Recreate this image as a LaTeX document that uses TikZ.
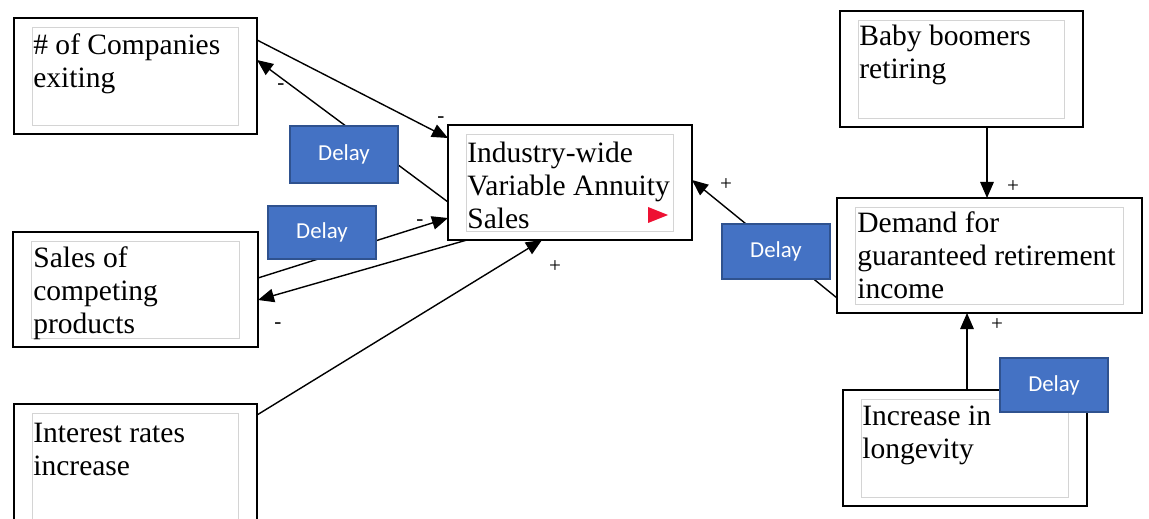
\documentclass[tikz,border=0pt]{standalone}
\usepackage{fontspec}
\setmainfont{Liberation Serif}
\newfontfamily\delayfont{Carlito}
\usetikzlibrary{arrows.meta}

\definecolor{delayblue}{HTML}{4472C4}
\definecolor{delayedge}{HTML}{2F528F}
\definecolor{innergray}{HTML}{D4D4D4}
\definecolor{flagred}{HTML}{EE1133}

\begin{document}
\begin{tikzpicture}[
    >={Triangle[length=0.32cm, width=0.27cm]},
    var/.style   = {rectangle, draw=black, line width=0.9pt, fill=white,
                     outer sep=0pt, inner sep=0pt},
    vtext/.style = {anchor=base west, inner sep=0pt, align=left,
                     font=\fontsize{16.8}{19}\selectfont},
    inbox/.style = {draw=innergray, line width=0.5pt},
    delay/.style = {rectangle, draw=delayedge, fill=delayblue, line width=1pt,
                     minimum width=2.16cm, text=white,
                     font=\delayfont\fontsize{13}{15}\selectfont},
    link/.style  = {->, line width=0.8pt},
    sgn/.style   = {inner sep=0pt, font=\fontsize{12}{14}\selectfont},
  ]
  \clip (0,0) rectangle (22.98,10.36);
  \fill[white] (0,0) rectangle (22.98,10.36);
  % variable boxes
  \node[var, minimum width=4.86cm, minimum height=2.32cm] (comp)   at (2.71,8.84)  {};
  \node[var, minimum width=4.90cm, minimum height=2.30cm] (compet) at (2.71,4.57)  {};
  \node[var, minimum width=4.86cm, minimum height=2.52cm] (inter)  at (2.71,1.02)  {};
  \node[var, minimum width=4.88cm, minimum height=2.30cm] (ind)    at (11.40,6.71) {};
  \node[var, minimum width=4.86cm, minimum height=2.32cm] (baby)   at (19.23,8.98) {};
  \node[var, minimum width=6.10cm, minimum height=2.30cm] (demand) at (19.79,5.25) {};
  \node[var, minimum width=4.88cm, minimum height=2.32cm] (longev) at (19.30,1.40) {};
  % grey frames inside the boxes
  \foreach \b in {comp,compet,inter,ind,baby,demand,longev}{
    \draw[inbox] ([shift={(0.36,-0.19)}]\b.north west)
      rectangle ([shift={(-0.38,0.17)}]\b.south east);}
  % box texts (base = last line)
  \node[vtext] (compt)   at ([shift={(0.38,-1.39)}]comp.north west)   {\# of Companies\\exiting};
  \node[vtext] (compett) at ([shift={(0.40,-2.04)}]compet.north west) {Sales of\\competing\\products};
  \node[vtext] (intert)  at ([shift={(0.38,-1.43)}]inter.north west)  {Interest rates\\increase};
  \node[vtext] (indt)    at ([shift={(0.38,-2.08)}]ind.north west)    {Industry-wide\\Variable Annuity\\Sales};
  \node[vtext] (babyt)   at ([shift={(0.38,-1.35)}]baby.north west)   {Baby boomers\\retiring};
  \node[vtext] (demandt) at ([shift={(0.40,-2.02)}]demand.north west) {Demand for\\guaranteed retirement\\income};
  \node[vtext] (longevt) at ([shift={(0.38,-1.37)}]longev.north west) {Increase in\\longevity};
  \fill[flagred] ([shift={(-0.88,0.66)}]ind.south east) -- ([shift={(-0.88,0.34)}]ind.south east)
    -- ([shift={(-0.48,0.50)}]ind.south east) -- cycle;
  % causal links
  \draw[link] ([yshift=-0.44cm]comp.north east) -- ([yshift=-0.26cm]ind.north west);
  \draw[link] ([yshift=-1.54cm]ind.north west) -- ([yshift=-0.84cm]comp.north east);
  \draw[link] ([yshift=-0.92cm]compet.north east) -- ([yshift=-1.86cm]ind.north west);
  \draw[link] ([xshift=0.38cm]ind.south west) -- ([yshift=-1.36cm]compet.north east);
  \draw[link] ([yshift=-0.22cm]inter.north east) -- ([xshift=1.88cm]ind.south west);
  \draw[link] ([yshift=-2.00cm]demand.north west) -- ([yshift=-1.10cm]ind.north east);
  \draw[link] ([xshift=2.94cm]baby.south west) coordinate (bb) -- (bb |- demand.north);
  \draw[link] ([xshift=2.48cm]longev.north west) coordinate (lg) -- (lg |- demand.south);
  % polarity signs
  \node[sgn] (s1) at (8.82,7.96)  {-};
  \node[sgn] (s2) at (5.62,8.62)  {-};
  \node[sgn] (s3) at (8.40,5.90)  {-};
  \node[sgn] (s4) at (5.56,3.84)  {-};
  \node[sgn] (s5) at (11.10,5.02) {+};
  \node[sgn] (s6) at (14.52,6.66) {+};
  \node[sgn] (s7) at (20.26,6.62) {+};
  \node[sgn] (s8) at (19.94,3.86) {+};
  % delays
  \node[delay, minimum height=1.14cm] (d1) at (6.88,7.27)  {Delay};
  \node[delay, minimum height=1.06cm] (d2) at (6.44,5.71)  {Delay};
  \node[delay, minimum height=1.10cm] (d3) at (15.52,5.33) {Delay};
  \node[delay, minimum height=1.08cm] (d4) at (21.08,2.66) {Delay};
\end{tikzpicture}
\end{document}
